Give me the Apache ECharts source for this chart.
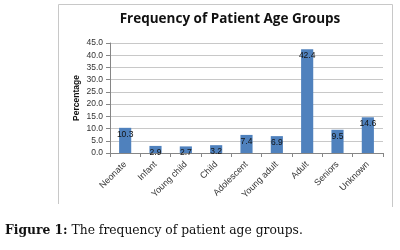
<!DOCTYPE html>
<html><head><meta charset="utf-8">
<script src="https://cdn.jsdelivr.net/npm/echarts@6/dist/echarts.min.js"></script>
<style>html,body{margin:0;padding:0;background:#fff}#c{width:400px;height:250px}</style>
</head><body><div id="c"></div>
<script>
const categories = ['Neonate','Infant','Young child','Child','Adolescent','Young adult','Adult','Seniors','Unknown'];
const values = [10.3, 2.9, 2.7, 3.2, 7.4, 6.9, 42.4, 9.5, 14.6];
const yMin = 0, yMax = 45, yStep = 5;

const chart = echarts.init(document.getElementById('c'), null, {renderer:'canvas'});
chart.setOption({
  animation: false,
  backgroundColor: '#fff',
  title: {
    text: 'Frequency of Patient Age Groups',
    left: 225, top: 7, textAlign: 'center',
    textStyle: {fontFamily: 'Open Sans', fontWeight: 'bold', fontSize: 13.5, color: '#111'}
  },
  grid: {left: 110, right: 17, top: 43, bottom: 97},
  xAxis: {
    type: 'category', data: categories,
    axisLine: {lineStyle: {color: '#868686'}},
    axisTick: {show: true, length: 4, lineStyle: {color: '#868686'}},
    axisLabel: {rotate: 45, fontSize: 9, color: '#333', fontFamily: 'Liberation Sans', margin: 10}
  },
  yAxis: {
    type: 'value', min: yMin, max: yMax, interval: yStep,
    name: 'Percentage', nameLocation: 'middle', nameGap: 29, nameRotate: 90,
    nameMoveOverlap: false,
    nameTextStyle: {fontSize: 8.5, fontWeight: 'bold', color: '#111', fontFamily: 'Liberation Sans'},
    axisLine: {show: true, lineStyle: {color: '#868686'}},
    axisTick: {show: true, length: 4, lineStyle: {color: '#868686'}},
    axisLabel: {fontSize: 8.5, color: '#333', fontFamily: 'Liberation Sans', margin: 7,
      formatter: v => v.toFixed(1)},
    splitLine: {lineStyle: {color: '#c8c8c8'}}
  },
  series: [{
    type: 'bar', data: values, barWidth: '40%',
    itemStyle: {color: '#4F81BD'},
    label: {show: true, position: 'insideTop', distance: 2, fontSize: 8.5,
      color: '#111', fontFamily: 'Liberation Sans', formatter: p => p.value.toFixed(1)}
  }],
  graphic: [
    {type: 'polyline', shape: {points: [[58.5, 204], [58.5, 4.5], [392.5, 4.5], [392.5, 207]]},
     style: {stroke: '#c8c8c8', fill: null, lineWidth: 1}},
    {type: 'text', left: 5, top: 225, style: {
      text: '{b|Figure 1:} The frequency of patient age groups.',
      font: '12.3px "DejaVu Serif"', fill: '#111',
      rich: {b: {fontWeight: 'bold', fontFamily: 'DejaVu Serif', fontSize: 12.3, fill: '#111'}}
    }}
  ]
});
</script></body></html>
